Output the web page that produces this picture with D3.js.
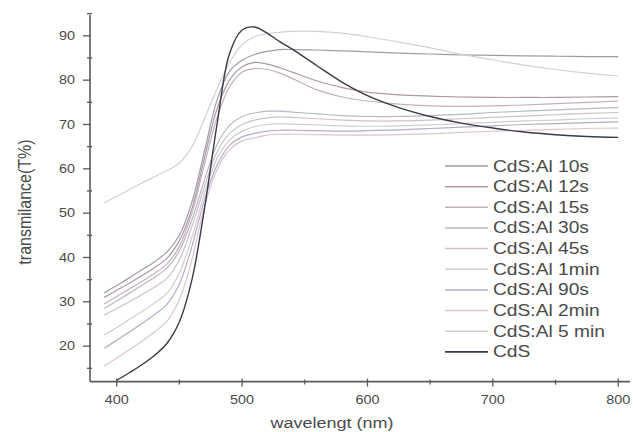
<!DOCTYPE html>
<html><head><meta charset="utf-8">
<script src="https://cdn.jsdelivr.net/npm/d3@7"></script>
<style>
html,body{margin:0;padding:0;background:#fff;}
text{font-family:"Liberation Sans",Arial,sans-serif;fill:#4a4a4a;}
</style></head>
<body>
<svg id="chart" width="633" height="432"></svg>
<script>
// ---------- data ----------
const wavelengths = [390,400,410,420,430,440,450,460,470,480,490,500,510,520,530,540,560,580,600,625,650,675,700,725,750,775,800];
const seriesNames = ["CdS:Al 10s","CdS:Al 12s","CdS:Al 15s","CdS:Al 30s","CdS:Al 45s","CdS:Al 1min","CdS:Al 90s","CdS:Al 2min","CdS:Al 5 min","CdS"];
const al10s  = [32,33.7,35.4,37.2,39,41.2,45,52.5,64,75.5,82,84.5,85.8,86.5,86.9,86.9,86.8,86.6,86.4,86.1,85.9,85.7,85.6,85.5,85.4,85.3,85.3];
const al12s  = [31,32.6,34.2,35.9,37.7,39.8,43.8,51,62.5,73.5,80,83,84,83.6,82.8,81.8,79.8,78.3,77.3,76.7,76.4,76.2,76.1,76.1,76.1,76.2,76.3];
const al15s  = [29.5,31.2,32.9,34.6,36.4,38.5,42.5,50,61,71.5,78.5,81.8,82.6,82.4,81.6,80.4,77.8,76.2,75.3,74.6,74.2,74.1,74.2,74.4,74.7,75,75.3];
const al30s  = [28.5,30.2,31.9,33.7,35.5,37.6,41.5,48.5,57.5,65.5,69.8,71.8,72.6,73,73,72.8,72.4,72,71.8,71.8,72,72.3,72.7,73,73.3,73.6,73.8];
const al45s  = [27,28.5,30,31.6,33.3,35.3,39.5,47,56,63.8,68,70,71,71.5,71.7,71.6,71.3,71,70.8,70.8,71,71.3,71.6,71.9,72.2,72.5,72.7];
const al1min = [22.5,24.2,26,27.8,29.7,31.9,36.5,44.5,54.5,62.3,66.5,68.5,69.5,70,70.2,70.1,69.9,69.7,69.6,69.7,69.9,70.2,70.5,70.8,71,71.3,71.5];
const al90s  = [19.5,21.3,23.2,25.1,27.1,29.4,34,42.5,53,60.8,65.3,67.2,68,68.5,68.7,68.7,68.6,68.5,68.6,68.8,69.1,69.4,69.7,70,70.2,70.4,70.6];
const al2min = [15.5,17.3,19.2,21.1,23.2,25.6,30.5,39.5,51.5,59.8,64.3,66.3,67,67.6,67.8,67.8,67.7,67.6,67.6,67.7,67.9,68.2,68.5,68.7,68.9,69.1,69.2];
const al5min = [52.3,53.8,55.3,56.8,58.2,59.6,61.3,65,71.3,78,84,88,89.8,90.5,90.8,91,91,90.6,89.8,88.6,87.3,85.8,84.6,83.4,82.4,81.6,81];
const cds    = [null,12.3,14,15.8,17.9,20.6,25.5,35,51,70,86,91.3,92,90.6,88.7,87,83.2,79.5,76.5,73.8,71.8,70.3,69.2,68.3,67.7,67.3,67.1];
const seriesValues = [al10s,al12s,al15s,al30s,al45s,al1min,al90s,al2min,al5min,cds];
const xTicks = [400,500,600,700,800];
const xMinor = [450,550,650,750];
const yTicks = [20,30,40,50,60,70,80,90];
const yMinor = [15,25,35,45,55,65,75,85,95];

// ---------- style ----------
const colors = ["#9d9da8","#ae98aa","#c4b0bd","#b8b8c6","#cfc0c8","#cfcfd2","#b8abc7","#dbc6ce","#d2d0d6","#3a3a48"];
const widths = [1.2,1.2,1.2,1.2,1.2,1.2,1.2,1.2,1.2,1.4];
const SX = 1.2; // horizontal stretch of text in reference

const svg = d3.select("#chart");
const x = d3.scaleLinear().domain([378.7, 809]).range([90, 629.5]);
const y = d3.scaleLinear().domain([12, 94.7]).range([381.6, 15]);

const defs = svg.append("defs");
defs.append("clipPath").attr("id","clip")
  .append("rect").attr("x",90).attr("y",10).attr("width",545).attr("height",371.6);
defs.append("filter").attr("id","soft").attr("x","-5%").attr("y","-5%").attr("width","110%").attr("height","110%")
  .append("feGaussianBlur").attr("stdDeviation",0.4);

const axisColor = "#5a5a5a";
svg.append("line").attr("x1",90).attr("x2",90).attr("y1",y(94.7)).attr("y2",y(12)).attr("stroke",axisColor).attr("stroke-width",1.6);
svg.append("line").attr("x1",90).attr("x2",630).attr("y1",y(12)).attr("y2",y(12)).attr("stroke",axisColor).attr("stroke-width",1.6);

const gx = svg.append("g");
xTicks.forEach(t=>{
  gx.append("line").attr("x1",x(t)).attr("x2",x(t)).attr("y1",y(12)-3).attr("y2",y(12)+5).attr("stroke",axisColor).attr("stroke-width",1.3);
  gx.append("text").attr("transform",`translate(${x(t)},404) scale(${SX},1)`).attr("text-anchor","middle").attr("font-size",12).text(t);
});
xMinor.forEach(t=>{
  gx.append("line").attr("x1",x(t)).attr("x2",x(t)).attr("y1",y(12)-2).attr("y2",y(12)+3).attr("stroke",axisColor).attr("stroke-width",1.3);
});
const gy = svg.append("g");
yTicks.forEach(t=>{
  gy.append("line").attr("x1",83).attr("x2",91).attr("y1",y(t)).attr("y2",y(t)).attr("stroke",axisColor).attr("stroke-width",1.3);
  gy.append("text").attr("transform",`translate(75,${y(t)+4.2}) scale(${SX},1)`).attr("text-anchor","end").attr("font-size",12).text(t);
});
yMinor.forEach(t=>{
  gy.append("line").attr("x1",87).attr("x2",92).attr("y1",y(t)).attr("y2",y(t)).attr("stroke",axisColor).attr("stroke-width",1.3);
});

svg.append("text").attr("transform",`translate(332,428) scale(${SX},1)`).attr("text-anchor","middle").attr("font-size",15).text("wavelengt (nm)");
svg.append("text").attr("transform",`translate(31,202) scale(${SX},1) rotate(-90)`).attr("text-anchor","middle").attr("font-size",16).text("transmilance(T%)");

const line = d3.line().defined(d=>d[1]!=null).x(d=>x(d[0])).y(d=>y(d[1])).curve(d3.curveCatmullRom.alpha(0.5));
const gl = svg.append("g").attr("clip-path","url(#clip)").append("g").attr("filter","url(#soft)");
seriesValues.forEach((vals,i)=>{
  const pts = wavelengths.map((w,j)=>[w,vals[j]]);
  gl.append("path").attr("d",line(pts)).attr("fill","none").attr("stroke",colors[i]).attr("stroke-width",widths[i]).attr("stroke-linejoin","round");
});

const lg = svg.append("g");
seriesNames.forEach((n,i)=>{
  const yy = 166 + i*20.65;
  lg.append("line").attr("x1",445).attr("x2",488).attr("y1",yy).attr("y2",yy).attr("stroke",colors[i]).attr("stroke-width",widths[i]+0.3);
  lg.append("text").attr("transform",`translate(493,${yy+5.5}) scale(${SX},1)`).attr("font-size",16).text(n);
});
</script>
</body></html>
